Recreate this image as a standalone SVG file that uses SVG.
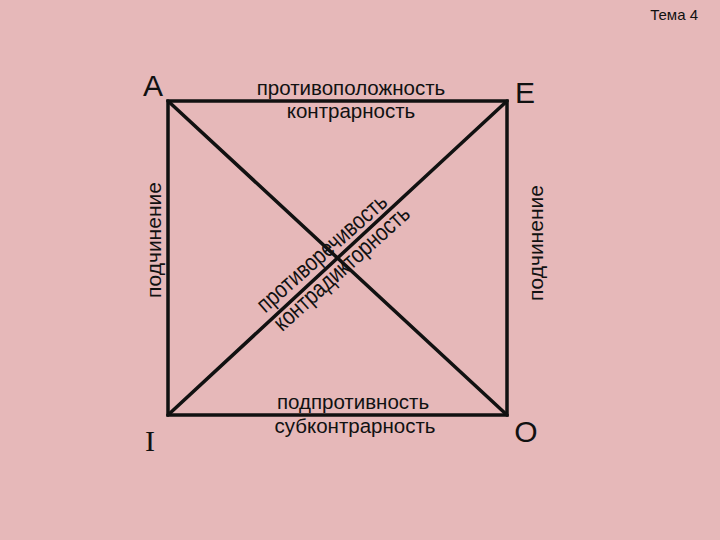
<svg xmlns="http://www.w3.org/2000/svg" width="720" height="540" viewBox="0 0 720 540">
<style>
.t{font-family:"Liberation Sans",Arial,sans-serif;fill:#111;}
.e{stroke:#111;stroke-width:3.5;fill:none;stroke-linecap:round;}
</style>
<rect width="720" height="540" fill="#e6b8b9"/>
<g id="connectors">
<rect class="e" x="168" y="101" width="339" height="314"/>
<line class="e" x1="168" y1="101" x2="507" y2="415"/>
<line class="e" x1="168" y1="415" x2="507" y2="101"/>
</g>
<g id="title"><text class="t" x="698" y="20" font-size="15" text-anchor="end">Тема 4</text></g>
<g id="nodeA"><text class="t" x="153" y="96" font-size="30" text-anchor="middle">A</text></g>
<g id="nodeE"><text class="t" x="525" y="103" font-size="30" text-anchor="middle">E</text></g>
<g id="nodeI"><text x="150" y="451" font-size="30" text-anchor="middle" style="font-family:'Liberation Serif','Times New Roman',serif;fill:#111">I</text></g>
<g id="nodeO"><text class="t" x="526" y="442" font-size="30" text-anchor="middle">O</text></g>
<g id="label-top"><text class="t" font-size="20.5" text-anchor="middle"><tspan x="351" y="95">противоположность</tspan><tspan x="351" y="118">контрарность</tspan></text></g>
<g id="label-bottom"><text class="t" font-size="20.5" text-anchor="middle"><tspan x="353" y="409">подпротивность</tspan><tspan x="355" y="433">субконтрарность</tspan></text></g>
<g id="label-left"><text class="t" font-size="21" text-anchor="middle" transform="translate(161,240) rotate(-90)">подчинение</text></g>
<g id="label-right"><text class="t" font-size="21" text-anchor="middle" transform="translate(543,243) rotate(-90)">подчинение</text></g>
<g id="label-diagonal" class="t" font-size="24">
<text transform="translate(327,259) rotate(-41.5)" text-anchor="middle" textLength="165" lengthAdjust="spacingAndGlyphs" x="0" y="0">противоречивость</text>
<text transform="translate(347,274) rotate(-42)" text-anchor="middle" textLength="174" lengthAdjust="spacingAndGlyphs" x="0" y="0">контрадикторность</text>
</g>
</svg>
